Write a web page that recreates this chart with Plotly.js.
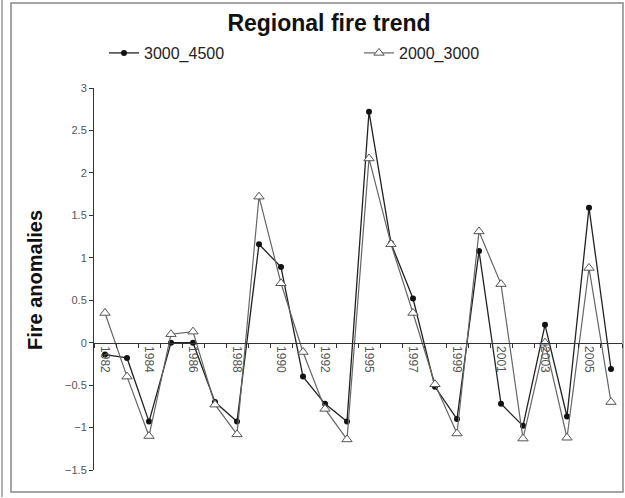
<!DOCTYPE html>
<html>
<head>
<meta charset="utf-8">
<script src="https://cdn.plot.ly/plotly-3.0.1.min.js"></script>
<style>
html,body{margin:0;padding:0;background:#fff;}
#chart{width:625px;height:498px;}
</style>
</head>
<body>
<div id="chart"></div>
<script>
// Categories (years; one year is absent between 1992 and 1995)
const years = ['1982','1983','1984','1985','1986','1987','1988','1989','1990','1991','1992','1993',
               '1995','1996','1997','1998','1999','2000','2001','2002','2003','2004','2005','2006'];
// Tick labels (every other category labelled)
const tickLabels = ['1982','','1984','','1986','','1988','','1990','','1992','',
                    '1995','','1997','','1999','','2001','','2003','','2005',''];
// Series values
const s3000_4500 = [-0.14,-0.18,-0.93,0.0,0.0,-0.70,-0.93,1.16,0.89,-0.40,-0.72,-0.93,
                    2.72,1.17,0.52,-0.52,-0.90,1.08,-0.72,-0.98,0.21,-0.87,1.59,-0.31];
const s2000_3000 = [0.35,-0.40,-1.10,0.10,0.13,-0.73,-1.08,1.72,0.70,-0.11,-0.78,-1.14,
                    2.17,1.16,0.35,-0.49,-1.07,1.31,0.69,-1.13,0.0,-1.12,0.88,-0.70];
const seriesNames = ['3000_4500','2000_3000'];

const W = 625, H = 498, L = 94, R = 3, T = 88, B = 28;
const pw = W - L - R, ph = H - T - B;
const px = x => (x - L) / pw;
const py = y => (H - B - y) / ph;

const traces = [
  {
    x: years, y: s3000_4500, name: seriesNames[0], type: 'scatter', mode: 'lines+markers',
    line: {color: '#222', width: 1.3},
    marker: {symbol: 'circle', size: 6, color: '#111', line: {width: 0}},
    cliponaxis: false
  },
  {
    x: years, y: s2000_3000, name: seriesNames[1], type: 'scatter', mode: 'lines+markers',
    line: {color: '#666', width: 1.2},
    marker: {symbol: 'triangle-up', size: 9, color: '#fff', line: {color: '#555', width: 1}},
    cliponaxis: false
  }
];

const layout = {
  width: W, height: H,
  margin: {l: L, r: R, t: T, b: B, pad: 0},
  paper_bgcolor: '#fff', plot_bgcolor: '#fff',
  font: {family: 'Arial, "Liberation Sans", sans-serif', color: '#000'},
  showlegend: true,
  title: {
    text: 'Regional fire trend',
    font: {size: 23, weight: 'bold', color: '#111'},
    xref: 'container', yref: 'container',
    x: 329 / W, y: 1 - 23 / H, xanchor: 'center', yanchor: 'middle'
  },
  legend: {
    orientation: 'h', xref: 'container', yref: 'container',
    x: 104 / W, y: 1 - 53 / H, xanchor: 'left', yanchor: 'middle',
    font: {size: 16, color: '#222'},
    entrywidth: 210, entrywidthmode: 'pixels',
    bgcolor: 'rgba(0,0,0,0)', borderwidth: 0, traceorder: 'normal'
  },
  xaxis: {
    type: 'category', range: [-0.5, 23.5], fixedrange: true,
    anchor: 'free', position: 1.5 / 4.5,
    showline: true, linecolor: '#333', linewidth: 1,
    showgrid: false, zeroline: false,
    tickmode: 'array', tickvals: years, ticktext: tickLabels,
    tickson: 'boundaries', ticks: 'outside', ticklen: 4, tickcolor: '#333', tickwidth: 1,
    tickangle: 90, tickfont: {size: 12, color: '#555'}
  },
  yaxis: {
    range: [-1.5, 3], dtick: 0.5, tick0: 0, fixedrange: true,
    showline: true, linecolor: '#333', linewidth: 1,
    showgrid: false, zeroline: false,
    ticks: 'outside', ticklen: 4, tickcolor: '#333',
    tickfont: {size: 11, color: '#555'}
  },
  annotations: [{
    text: 'Fire anomalies', textangle: -90, showarrow: false,
    xref: 'paper', yref: 'paper', x: px(35), y: py(280),
    xanchor: 'center', yanchor: 'middle',
    font: {size: 20, weight: 'bold', color: '#111'}
  }],
  shapes: [
    {type: 'rect', xref: 'paper', yref: 'paper', x0: px(11), x1: px(623), y0: py(492), y1: py(3),
     line: {color: '#888', width: 1.5}, fillcolor: 'rgba(0,0,0,0)', layer: 'below'},
    {type: 'line', xref: 'paper', yref: 'paper', x0: px(2), x1: px(2), y0: py(497), y1: py(0),
     line: {color: '#999', width: 1.5}}
  ]
};

Plotly.newPlot('chart', traces, layout, {staticPlot: true, displayModeBar: false});
</script>
</body>
</html>
